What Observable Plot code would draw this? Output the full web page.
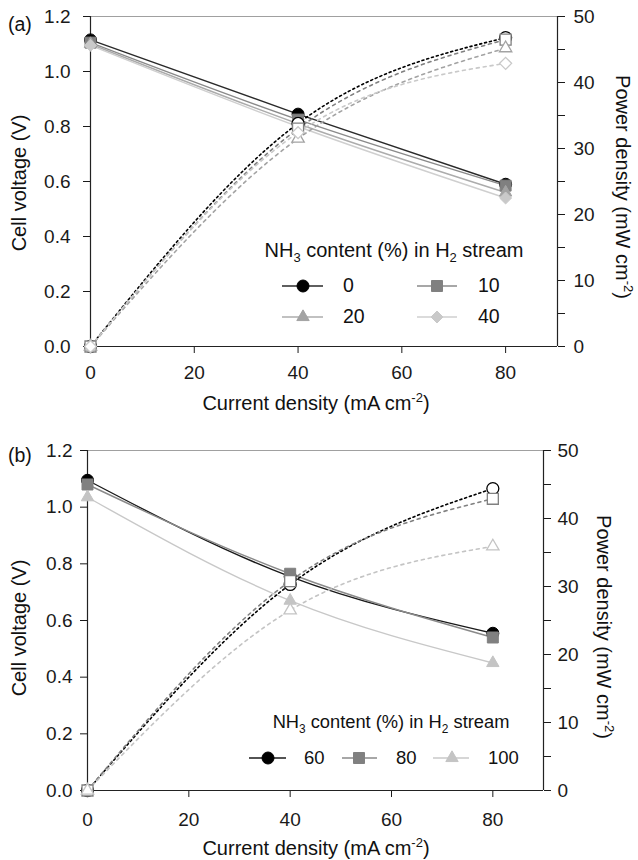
<!DOCTYPE html>
<html><head><meta charset="utf-8">
<script src="https://cdn.jsdelivr.net/npm/d3@7"></script>
<script src="https://cdn.jsdelivr.net/npm/@observablehq/plot@0.6"></script>
<style>
body{margin:0;background:#fff;}
#root{position:relative;width:638px;height:860px;font-family:"Liberation Sans",Arial,sans-serif;color:#111;overflow:hidden;background:#fff;}
.abs{position:absolute;white-space:nowrap;line-height:1;}
.plot{position:absolute;left:0;}
sub,sup{font-size:0.65em;line-height:0;}
</style></head><body><div id="root"></div>
<script>
// ---------- data ----------
const current = [0, 40, 80];                       // mA cm^-2
const seriesA = ["0", "10", "20", "40"];          // NH3 content (%)
const voltageA = [[1.115, 0.845, 0.59], [1.105, 0.825, 0.585], [1.10, 0.81, 0.56], [1.095, 0.80, 0.54]];
const powerA   = [[0, 33.8, 46.8], [0, 33.0, 46.5], [0, 31.5, 45.2], [0, 32.4, 42.9]];
const seriesB = ["60", "80", "100"];
const voltageB = [[1.095, 0.755, 0.555], [1.08, 0.765, 0.54], [1.035, 0.67, 0.45]];
const powerB   = [[0, 30.3, 44.4], [0, 30.8, 42.9], [0, 26.5, 35.9]];
const xTicks = [0, 20, 40, 60, 80];
const voltTicks = [0, 0.2, 0.4, 0.6, 0.8, 1.0, 1.2];
const powerTicks = [0, 5, 10, 15, 20, 25, 30, 35, 40, 45, 50];

// ---------- styles ----------
const colorsA = ["#000000", "#808080", "#a3a3a3", "#c9c9c9"];
const lineColorsA = ["#2a2a2a", "#8a8a8a", "#acacac", "#cfcfcf"];
const symbolsA = ["circle", "square", "triangle", "diamond2"];
const rA = [6, 6.2, 4.6, 5.4];
const colorsB = ["#000000", "#808080", "#c4c4c4"];
const lineColorsB = ["#1a1a1a", "#8a8a8a", "#c8c8c8"];
const symbolsB = ["circle", "square", "triangle"];
const rB = [6, 6.2, 4.6];
const d3sym = {circle: d3.symbolCircle, square: d3.symbolSquare, triangle: d3.symbolTriangle, diamond2: d3.symbolDiamond2};
const K = 1.2 / 50; // power -> voltage axis mapping
const FONT = "'Liberation Sans', Arial, sans-serif";

const root = document.getElementById("root");

function makePanel(cfg) {
  const rows = cfg.series.flatMap((s, i) => current.map((c, j) => ({i, series: s, current: c, voltage: cfg.voltage[i][j], power: cfg.power[i][j]})));
  const marks = [
    Plot.ruleY([1.2], {stroke: "#a0a0a0", strokeWidth: 1}),
    Plot.axisX(xTicks, {tickSize: 7, tickPadding: cfg.xPad, label: null, tickFormat: d => String(d)}),
    Plot.axisY(voltTicks, {anchor: "left", tickSize: 7, tickPadding: cfg.lPad, label: null, tickFormat: d => d.toFixed(1)}),
    Plot.axisY(powerTicks.map(p => p * K), {anchor: "right", tickSize: 7, tickPadding: cfg.rPad, label: null,
      tickFormat: d => { const v = Math.round(d / K); return v % 10 === 0 ? String(v) : ""; }}),
    Plot.ruleX([0], {stroke: "#222", strokeWidth: 1.2}),
    Plot.ruleX([90], {stroke: "#222", strokeWidth: 1.2}),
    Plot.ruleY([0], {stroke: "#222", strokeWidth: 1.2})
  ];
  cfg.series.forEach((s, i) => {
    const d = rows.filter(r => r.i === i);
    marks.push(Plot.line(d, {x: "current", y: "voltage", curve: "natural", stroke: cfg.lineColors[i], strokeWidth: 1.4}));
  });
  cfg.series.forEach((s, i) => {
    const d = rows.filter(r => r.i === i);
    marks.push(Plot.line(d, {x: "current", y: r => r.power * K, curve: "natural", stroke: cfg.colors[i], strokeWidth: 1.6,
      strokeDasharray: i === 0 ? "2,3" : "3,4"}));
  });
  cfg.series.forEach((s, i) => {
    const d = rows.filter(r => r.i === i);
    marks.push(Plot.dot(d, {x: "current", y: "voltage", symbol: cfg.symbols[i], r: cfg.r[i], fill: cfg.colors[i], stroke: cfg.colors[i], strokeWidth: 1}));
  });
  cfg.series.forEach((s, i) => {
    const d = rows.filter(r => r.i === i);
    marks.push(Plot.dot(d, {x: "current", y: r => r.power * K, symbol: cfg.symbols[i], r: cfg.r[i], fill: "white", stroke: cfg.colors[i], strokeWidth: 1.3}));
  });
  const svg = Plot.plot({
    width: 638, height: cfg.height,
    marginLeft: cfg.ml, marginRight: cfg.mr, marginTop: cfg.mt, marginBottom: cfg.mb,
    x: {domain: [0, 90], label: null},
    y: {domain: [0, 1.2], label: null},
    style: {fontFamily: FONT, fontSize: "19px", color: "#1a1a1a", background: "transparent", overflow: "visible"},
    marks
  });
  svg.classList.add("plot");
  svg.style.top = cfg.top + "px";
  root.appendChild(svg);
}

function addText(html, x, y, opts = {}) {
  const div = document.createElement("div");
  div.className = "abs";
  div.innerHTML = html;
  div.style.left = x + "px";
  div.style.top = y + "px";
  div.style.fontSize = (opts.size || 20) + "px";
  div.style.transform = opts.transform || "translate(-50%,-50%)";
  root.appendChild(div);
}

function addSwatch(x0, x1, mx, y, lineColor, color, sym, r) {
  const w = x1 - x0, h = 20;
  const svg = d3.create("svg").attr("width", w).attr("height", h)
    .style("position", "absolute").style("left", x0 + "px").style("top", (y - h / 2) + "px");
  svg.append("line").attr("x1", 0).attr("x2", w).attr("y1", h / 2).attr("y2", h / 2).attr("stroke", lineColor).attr("stroke-width", 1.4);
  svg.append("path").attr("d", d3.symbol(d3sym[sym], Math.PI * r * r)()).attr("transform", `translate(${mx - x0},${h / 2})`)
    .attr("fill", color).attr("stroke", color);
  root.appendChild(svg.node());
}

// Panel (a)
makePanel({series: seriesA, voltage: voltageA, power: powerA, colors: colorsA, lineColors: lineColorsA, symbols: symbolsA, r: rA,
  top: 0, height: 420, ml: 90, mr: 81, mt: 16, mb: 74, xPad: 12, lPad: 13, rPad: 9});
// Panel (b)
makePanel({series: seriesB, voltage: voltageB, power: powerB, colors: colorsB, lineColors: lineColorsB, symbols: symbolsB, r: rB,
  top: 430, height: 430, ml: 87, mr: 95, mt: 20, mb: 70, xPad: 15, lPad: 8, rPad: 7});

// titles / axis labels
addText("(a)", 8, 25, {transform: "translate(0,-50%)", size: 19.5});
addText("(b)", 8, 456, {transform: "translate(0,-50%)", size: 19.5});
addText("Cell voltage (V)", 19, 183, {transform: "translate(-50%,-50%) rotate(-90deg)"});
addText("Cell voltage (V)", 19, 628, {transform: "translate(-50%,-50%) rotate(-90deg)"});
addText("Power density (mW cm<sup>-2</sup>)", 623, 187, {transform: "translate(-50%,-50%) rotate(90deg)"});
addText("Power density (mW cm<sup>-2</sup>)", 604, 627, {transform: "translate(-50%,-50%) rotate(90deg)"});
addText("Current density (mA cm<sup>-2</sup>)", 316, 403);
addText("Current density (mA cm<sup>-2</sup>)", 316, 848);

// legend (a)
addText("NH<sub>3</sub> content (%) in H<sub>2</sub> stream", 394, 250, {size: 20});
const legPosA = [[282, 323, 303, 343, 286], [417, 457, 437, 478, 286], [282, 323, 303, 343, 317], [417, 457, 437, 478, 317]];
seriesA.forEach((s, i) => {
  const [x0, x1, mx, lx, y] = legPosA[i];
  addSwatch(x0, x1, mx, y, lineColorsA[i], colorsA[i], symbolsA[i], rA[i]);
  addText(s, lx, y, {size: 19.5, transform: "translate(0,-50%)"});
});
// legend (b)
addText("NH<sub>3</sub> content (%) in H<sub>2</sub> stream", 391, 722, {size: 18.3});
const legPosB = [[249, 286, 268, 304, 758], [342, 377, 359, 396, 758], [433, 469, 452, 488, 758]];
seriesB.forEach((s, i) => {
  const [x0, x1, mx, lx, y] = legPosB[i];
  addSwatch(x0, x1, mx, y, lineColorsB[i], colorsB[i], symbolsB[i], rB[i]);
  addText(s, lx, y, {size: 18.5, transform: "translate(0,-50%)"});
});
</script></body></html>
